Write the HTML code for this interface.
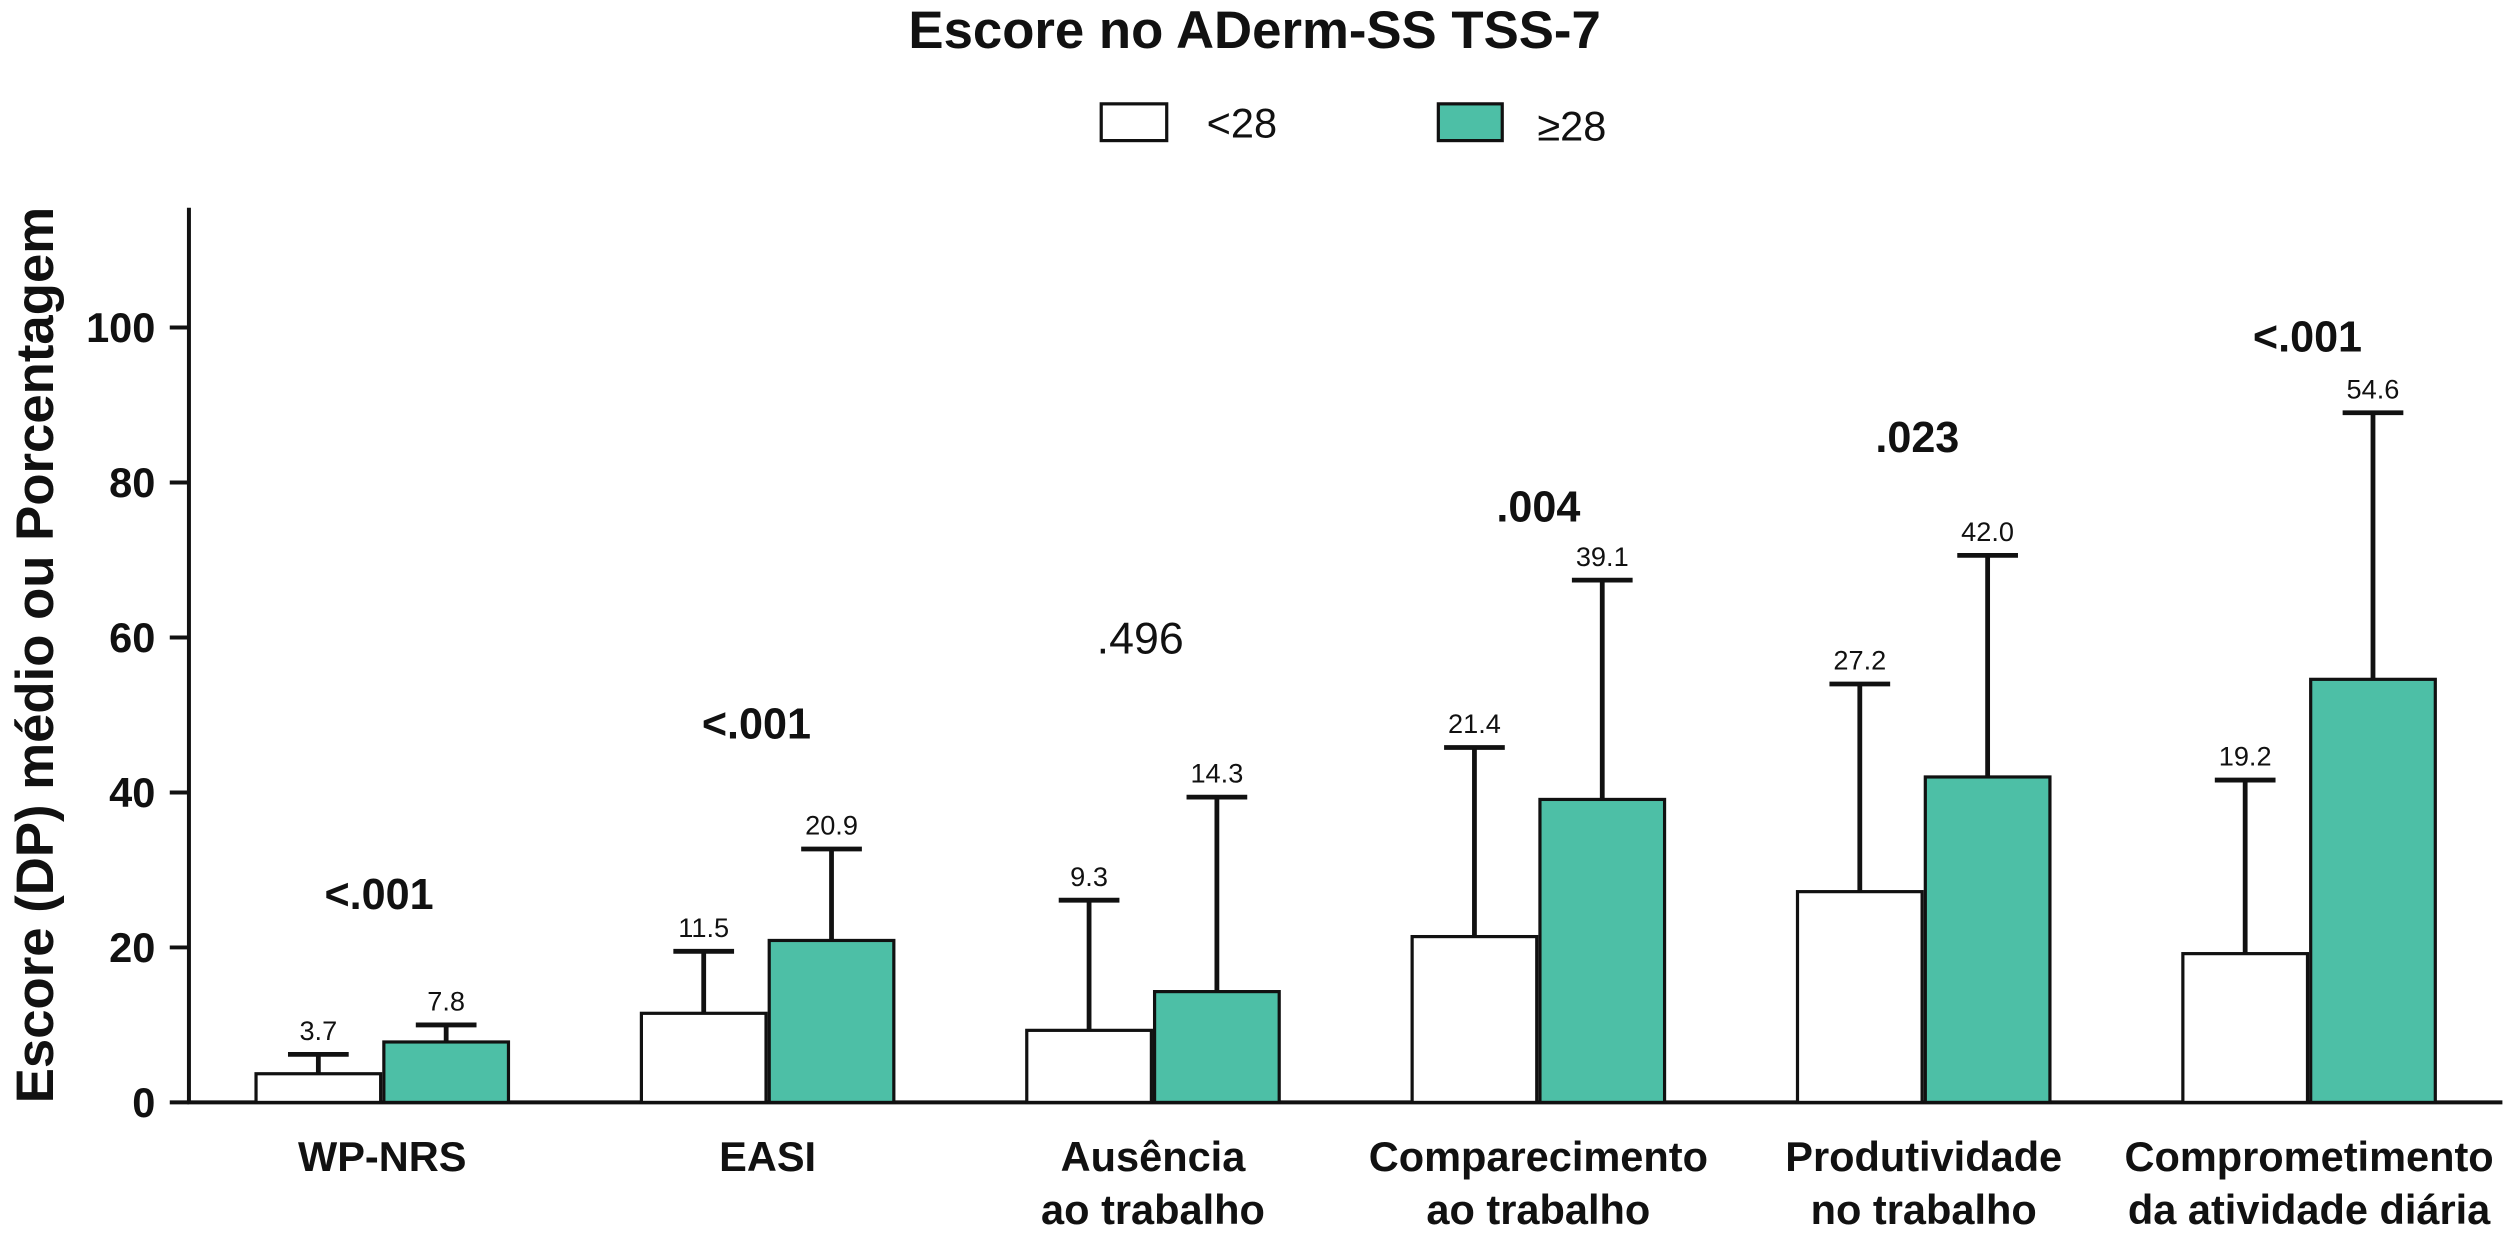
<!DOCTYPE html>
<html><head><meta charset="utf-8"><style>html,body{margin:0;padding:0;background:#fff}svg{display:block}text{font-family:"Liberation Sans",Arial,sans-serif;fill:#111}</style></head>
<body>
<svg id="chart" width="2506" height="1251" viewBox="0 0 1568 783" xmlns="http://www.w3.org/2000/svg">
<text x="785" y="30" font-size="33" font-weight="bold" text-anchor="middle">Escore no ADerm-SS TSS-7</text>
<g>
<rect x="689" y="65" width="41" height="23" fill="#fff" stroke="#111" stroke-width="2"/>
<text x="755" y="86" font-size="26">&lt;28</text>
<rect x="900" y="65" width="40" height="23" fill="#4dbfa6" stroke="#111" stroke-width="2"/>
<text x="962" y="88" font-size="26">≥28</text>
</g>
<text transform="translate(33,410) rotate(-90)" font-size="33" font-weight="bold" text-anchor="middle">Escore (DP) médio ou Porcentagem</text>
<g id="axes"></g>
<g id="marks"></g>
</svg>
<script>
const categories = [["WP-NRS"],["EASI"],["Ausência","ao trabalho"],["Comparecimento","ao trabalho"],["Produtividade","no trabalho"],["Comprometimento","da atividade diária"]];
const lowValues = [3.7, 11.5, 9.3, 21.4, 27.2, 19.2];
const highValues = [7.8, 20.9, 14.3, 39.1, 42.0, 54.6];
const lowSD = [2.5, 8.0, 16.8, 24.4, 26.8, 22.4];
const highSD = [2.2, 11.8, 25.1, 28.3, 28.6, 34.4];
const pValues = ["<.001","<.001",".496",".004",".023","<.001"];
const pBold = [true,true,false,true,true,true];
const pLevel = [27, 49, 60, 77, 86, 99];
const yTicks = [0,20,40,60,80,100];

const NS="http://www.w3.org/2000/svg";
const y0=690, pxPerUnit=4.85;
const y=v=>y0-v*pxPerUnit;
const groupX=i=>160+i*241.2;
const barW=78;
const pShift=[-2,-7,-8,0,-4,-1];
function mk(tag,attrs,parent,txt){const e=document.createElementNS(NS,tag);for(const k in attrs)e.setAttribute(k,attrs[k]);if(txt!==undefined)e.textContent=txt;parent.appendChild(e);return e;}
const axes=document.getElementById('axes'), marks=document.getElementById('marks');
let e;
e=mk('line',{x1:118,y1:130,x2:118,y2:691,stroke:'#111','stroke-width':2.5},axes);


e=mk('line',{x1:117,y1:690,x2:1566,y2:690,stroke:'#111','stroke-width':2.5},axes);


yTicks.forEach(t=>{
 e=mk('line',{x1:106,y1:y(t),x2:118,y2:y(t),stroke:'#111','stroke-width':2.5},axes);
 
 
 e=mk('text',{x:97,y:y(t)+9,'font-size':26,'font-weight':'bold','text-anchor':'end'},axes,String(t));
 
 
});
function bar(x,v,sd,fill,name){
 const top=y(sd+v);
 e=mk('line',{x1:x+barW/2,y1:y(v),x2:x+barW/2,y2:top,stroke:'#111','stroke-width':3},marks);
 
 
 e=mk('line',{x1:x+barW/2-19,y1:top,x2:x+barW/2+19,y2:top,stroke:'#111','stroke-width':3},marks);
 
 
 e=mk('rect',{x:x,y:y(v),width:barW,height:y0-y(v),fill:fill,stroke:'#111','stroke-width':2},marks);
 
 
 e=mk('text',{x:x+barW/2,y:top-9,'font-size':17,'text-anchor':'middle'},marks,v.toFixed(1));
 
 
}
categories.forEach((c,i)=>{
 const gx=groupX(i);
 bar(gx,lowValues[i],lowSD[i],'#fff','bar-lt28-'+i);
 bar(gx+80,highValues[i],highSD[i],'#4dbfa6','bar-ge28-'+i);
 e=mk('text',{x:gx+79+pShift[i],y:y(pLevel[i])+10,'font-size':pBold[i]?27:28,'font-weight':pBold[i]?'bold':'normal','text-anchor':'middle'},marks,pValues[i]);
 
 
 c.forEach((line,j)=>{
  e=mk('text',{x:gx+79,y:733+j*33,'font-size':26,'font-weight':'bold','text-anchor':'middle'},axes,line);
  
  
 });
});
</script>
</body></html>
